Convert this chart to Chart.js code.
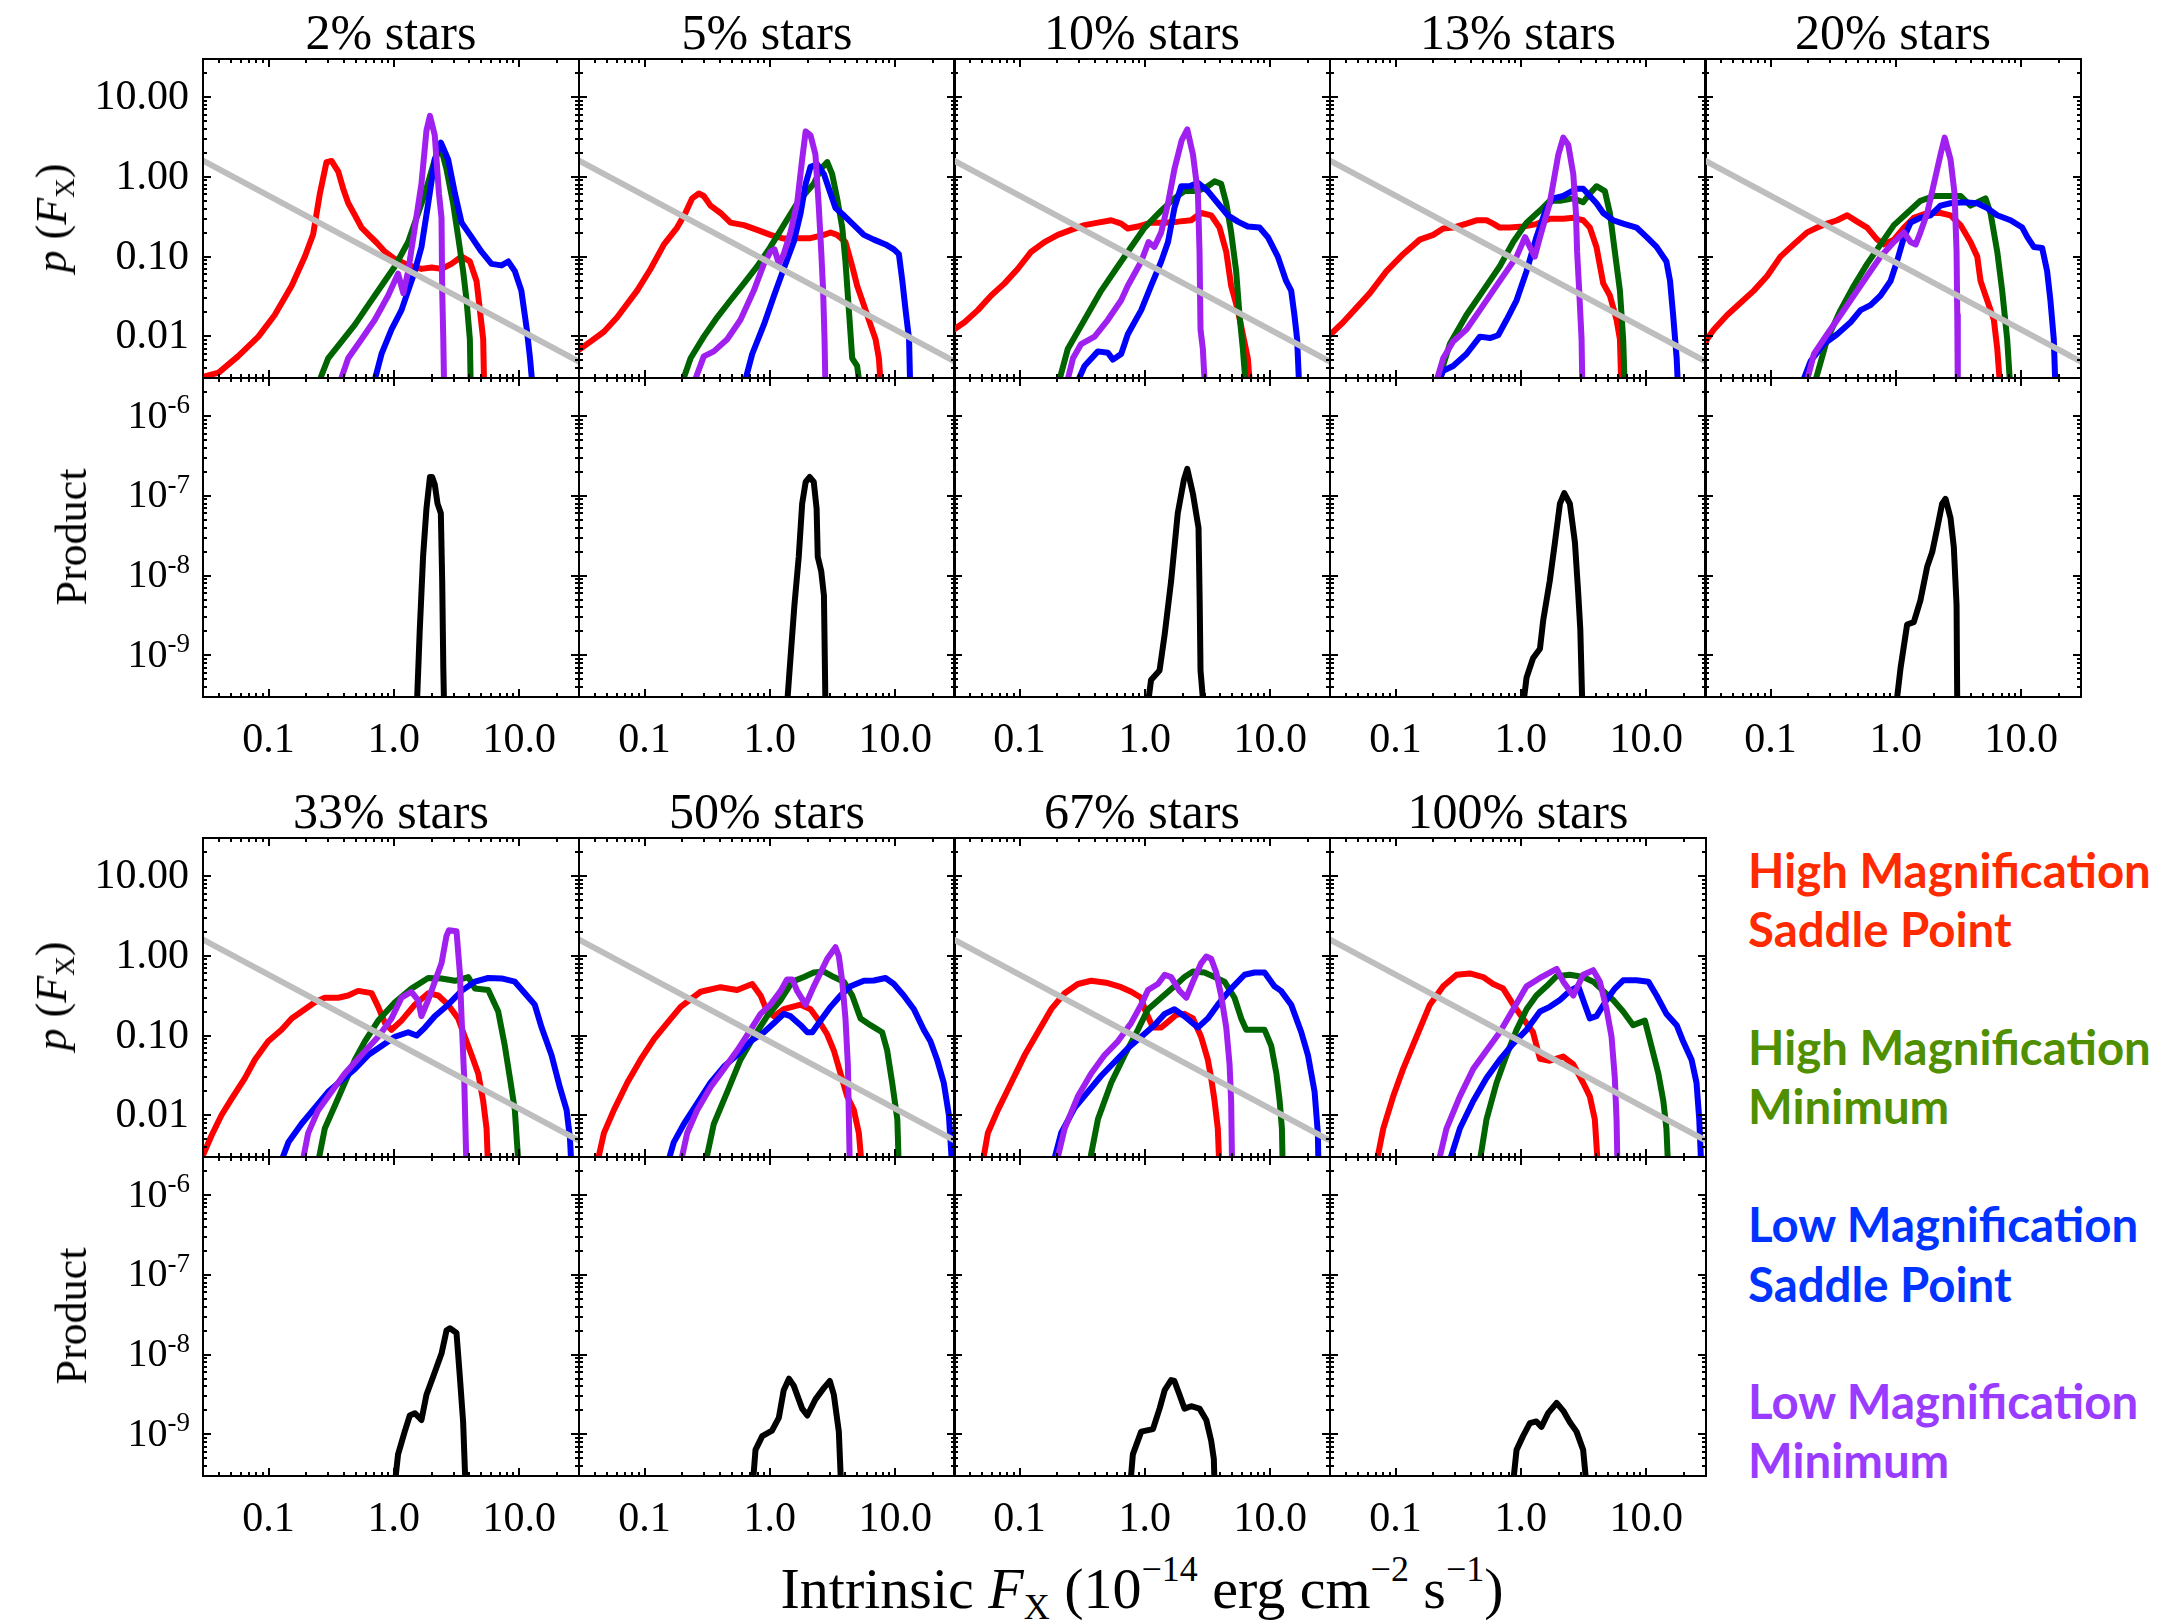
<!DOCTYPE html>
<html><head><meta charset="utf-8">
<script src="https://cdn.jsdelivr.net/npm/chart.js@4/dist/chart.umd.min.js"></script>
<style>
html,body{margin:0;padding:0;background:#fff;}
body{width:2160px;height:1621px;overflow:hidden;position:relative;}
canvas{position:absolute;}
.lbl{position:absolute;font-family:"Liberation Serif","Times New Roman",serif;color:#000;white-space:nowrap;line-height:1;}
.lbl sub,.lbl sup{font-size:0.62em;position:relative;vertical-align:baseline;line-height:0;}
.lbl sub{top:0.3em;}
.lbl sup{top:-0.75em;}
.leg{position:absolute;font-family:Lato,"Open Sans",sans-serif;font-weight:700;white-space:nowrap;line-height:1;}
</style></head><body>
<script>
// ---------------- DATA ----------------
const panelTitles = ['2% stars','5% stars','10% stars','13% stars','20% stars','33% stars','50% stars','67% stars','100% stars'];
const xTickValues = [0.1, 1, 10];
const xTickLabels = ['0.1','1.0','10.0'];
const pTickValues = [10, 1, 0.1, 0.01];
const pTickLabels = ['10.00','1.00','0.10','0.01'];
const prodTickValues = [1e-6, 1e-7, 1e-8, 1e-9];
const prodTickExps = ['-6','-7','-8','-9'];
const legendLines = [['High Magnification','Saddle Point'],['High Magnification','Minimum'],['Low Magnification','Saddle Point'],['Low Magnification','Minimum']];
const priorLine = [[0.03,1.6],[30,0.0048]];

// 2% stars
const hmSaddle02 = [[0.030,0.0031],[0.040,0.0035],[0.057,0.0056],[0.083,0.0099],[0.112,0.0185],[0.153,0.043],[0.195,0.10],[0.227,0.19],[0.257,0.62],[0.29,1.53],[0.318,1.58],[0.36,1.16],[0.394,0.71],[0.432,0.47],[0.489,0.33],[0.552,0.23],[0.624,0.19],[0.727,0.15],[0.848,0.115],[1.02,0.093],[1.30,0.078],[1.66,0.070],[2.0,0.073],[2.4,0.070],[2.88,0.081],[3.47,0.10],[4.04,0.087],[4.57,0.049],[4.86,0.021],[5.16,0.0092],[5.26,0.002]];
const hmMin02 = [[0.235,0.002],[0.299,0.0053],[0.382,0.0086],[0.489,0.014],[0.624,0.0246],[0.797,0.043],[1.02,0.0755],[1.30,0.152],[1.47,0.266],[1.77,0.617],[2.12,1.65],[2.37,2.34],[2.63,1.24],[2.97,0.466],[3.26,0.175],[3.57,0.0656],[3.80,0.0283],[4.04,0.0092],[4.11,0.002]];
const lmMin02 = [[0.349,0.002],[0.432,0.0053],[0.552,0.0092],[0.705,0.0161],[0.901,0.0325],[1.08,0.0611],[1.19,0.0348],[1.30,0.0656],[1.47,0.231],[1.66,0.817],[1.82,3.81],[1.94,5.81],[2.12,3.32],[2.29,0.617],[2.40,0.306],[2.43,0.0374],[2.48,0.0092],[2.52,0.002]];
const lmSaddle02 = [[0.664,0.002],[0.797,0.006],[0.958,0.0122],[1.15,0.0213],[1.30,0.0374],[1.47,0.0656],[1.66,0.132],[1.88,0.466],[2.12,1.65],[2.37,2.69],[2.71,1.65],[3.07,0.617],[3.47,0.266],[4.17,0.175],[5.0,0.115],[6.01,0.0809],[7.23,0.0775],[8.17,0.0867],[9.23,0.0656],[10.4,0.0374],[11.5,0.0122],[12.2,0.0053],[12.9,0.002]];
const product02 = [[1.52,2e-10],[1.61,2.11e-9],[1.71,1.72e-8],[1.82,6.93e-8],[1.94,1.72e-7],[2.02,1.72e-7],[2.12,1.39e-7],[2.23,7.98e-8],[2.37,6.03e-8],[2.43,8.55e-9],[2.48,6.93e-10],[2.52,2e-10]];

// 5% stars
const hmSaddle05 = [[0.030,0.00675],[0.037,0.00857],[0.0474,0.0114],[0.0605,0.0173],[0.0873,0.0374],[0.112,0.0703],[0.143,0.142],[0.182,0.231],[0.212,0.352],[0.240,0.537],[0.271,0.617],[0.297,0.575],[0.336,0.435],[0.404,0.352],[0.485,0.266],[0.621,0.248],[0.792,0.216],[1.01,0.187],[1.29,0.168],[1.65,0.170],[2.11,0.170],[2.70,0.187],[3.05,0.20],[3.44,0.187],[4.01,0.152],[4.54,0.0754],[4.97,0.043],[5.62,0.0246],[6.35,0.014],[6.97,0.0092],[7.41,0.0053],[7.73,0.002]];
const hmMin05 = [[0.188,0.002],[0.233,0.0053],[0.297,0.0099],[0.380,0.0173],[0.485,0.0283],[0.621,0.0461],[0.792,0.0754],[1.01,0.132],[1.29,0.248],[1.65,0.466],[1.99,0.662],[2.24,0.817],[2.54,1.24],[2.87,1.53],[3.14,1.08],[3.44,0.537],[3.78,0.231],[4.01,0.0867],[4.27,0.0213],[4.54,0.0053],[4.97,0.00425],[5.29,0.002]];
const lmMin05 = [[0.233,0.002],[0.297,0.0056],[0.357,0.00647],[0.457,0.0092],[0.583,0.0161],[0.745,0.0374],[0.896,0.0809],[1.01,0.115],[1.09,0.123],[1.18,0.0809],[1.29,0.107],[1.46,0.201],[1.65,0.466],[1.81,1.65],[1.93,3.71],[2.11,3.32],[2.31,1.90],[2.46,0.405],[2.57,0.115],[2.66,0.0374],[2.73,0.0092],[2.78,0.002]];
const lmSaddle05 = [[0.601,0.002],[0.723,0.006],[0.896,0.014],[1.08,0.0325],[1.29,0.0703],[1.55,0.152],[1.76,0.352],[1.93,0.817],[2.11,1.33],[2.39,1.43],[2.70,1.08],[2.96,0.71],[3.34,0.405],[3.89,0.329],[4.68,0.248],[5.62,0.187],[6.76,0.163],[8.37,0.142],[9.76,0.123],[10.7,0.107],[11.4,0.0494],[12.1,0.0213],[12.9,0.0092],[13.2,0.002]];
const product05 = [[1.36,2e-10],[1.46,9.2e-10],[1.57,4.26e-9],[1.70,1.72e-8],[1.81,7.98e-8],[1.93,1.49e-7],[2.08,1.72e-7],[2.24,1.49e-7],[2.36,6.93e-8],[2.41,1.72e-8],[2.57,1.13e-8],[2.70,5.62e-9],[2.78,2e-10]];

// 10% stars
const hmSaddle10 = [[0.0294,0.0119],[0.0364,0.015],[0.0465,0.0213],[0.0594,0.0325],[0.0759,0.0461],[0.097,0.0703],[0.124,0.115],[0.158,0.152],[0.202,0.187],[0.258,0.216],[0.330,0.248],[0.422,0.266],[0.539,0.285],[0.647,0.259],[0.731,0.225],[0.879,0.238],[1.12,0.266],[1.44,0.266],[1.83,0.274],[2.34,0.285],[2.81,0.352],[3.38,0.329],[3.94,0.231],[4.46,0.115],[4.88,0.043],[5.52,0.0213],[6.05,0.0106],[6.63,0.0053],[6.97,0.002]];
const hmMin10 = [[0.196,0.002],[0.243,0.007],[0.330,0.0161],[0.449,0.0374],[0.609,0.0755],[0.778,0.132],[0.997,0.231],[1.35,0.377],[1.72,0.537],[2.07,0.662],[2.65,0.662],[3.18,0.762],[3.60,0.877],[4.06,0.817],[4.46,0.466],[4.88,0.201],[5.35,0.0656],[5.69,0.0185],[6.05,0.007],[6.44,0.002]];
const lmMin10 = [[0.229,0.002],[0.267,0.0053],[0.310,0.008],[0.397,0.0099],[0.507,0.0161],[0.647,0.0283],[0.731,0.043],[0.935,0.0867],[1.07,0.152],[1.19,0.132],[1.35,0.201],[1.53,0.466],[1.72,1.24],[1.97,2.89],[2.18,3.93],[2.42,1.90],[2.65,0.617],[2.73,0.115],[2.78,0.0122],[2.90,0.007],[3.03,0.002]];
const lmSaddle10 = [[0.267,0.002],[0.330,0.00425],[0.422,0.00647],[0.507,0.00622],[0.556,0.0051],[0.647,0.006],[0.731,0.0106],[0.935,0.0213],[1.12,0.043],[1.35,0.0867],[1.53,0.152],[1.72,0.405],[1.95,0.762],[2.27,0.762],[2.65,0.841],[3.18,0.662],[3.82,0.466],[4.59,0.329],[5.52,0.274],[6.63,0.238],[8.22,0.231],[9.58,0.175],[11.5,0.0998],[13.4,0.0494],[14.7,0.0374],[15.6,0.0185],[16.4,0.0092],[17.1,0.002]];
const product10 = [[1.04,2e-10],[1.12,4.89e-10],[1.31,6.46e-10],[1.44,1.84e-9],[1.62,8.55e-9],[1.83,6.03e-8],[2.05,1.60e-7],[2.18,2.18e-7],[2.42,1.05e-7],[2.68,3.96e-8],[2.74,4.26e-9],[2.78,6.46e-10],[2.96,2e-10]];

// 13% stars
const hmSaddle13 = [[0.029,0.0099],[0.0382,0.015],[0.0489,0.0229],[0.0624,0.0348],[0.0848,0.0656],[0.115,0.107],[0.156,0.163],[0.20,0.187],[0.240,0.225],[0.288,0.231],[0.368,0.259],[0.443,0.285],[0.532,0.285],[0.601,0.259],[0.679,0.231],[0.817,0.231],[1.04,0.238],[1.33,0.255],[1.70,0.298],[2.18,0.298],[2.62,0.306],[3.14,0.285],[3.55,0.231],[4.01,0.132],[4.54,0.0461],[5.13,0.0325],[5.80,0.0161],[6.17,0.0092],[6.35,0.002]];
const hmMin13 = [[0.206,0.002],[0.271,0.008],[0.368,0.0185],[0.500,0.0374],[0.679,0.0755],[0.869,0.152],[1.11,0.266],[1.42,0.377],[1.70,0.50],[2.05,0.50],[2.62,0.537],[3.14,0.48],[3.55,0.617],[4.01,0.762],[4.68,0.662],[5.13,0.352],[5.62,0.115],[6.17,0.0374],[6.55,0.0092],[6.76,0.002]];
const lmMin13 = [[0.20,0.002],[0.240,0.0053],[0.288,0.0086],[0.368,0.0122],[0.471,0.0213],[0.601,0.0374],[0.769,0.0656],[0.924,0.0998],[1.08,0.175],[1.18,0.132],[1.29,0.0998],[1.42,0.175],[1.70,0.466],[1.99,1.90],[2.18,3.10],[2.39,2.51],[2.62,1.08],[2.75,0.352],[2.81,0.115],[2.92,0.0374],[3.05,0.0092],[3.10,0.002]];
const lmSaddle13 = [[0.206,0.002],[0.240,0.0037],[0.288,0.00425],[0.368,0.006],[0.471,0.0099],[0.566,0.0095],[0.659,0.0103],[0.769,0.0161],[0.924,0.0283],[1.11,0.0656],[1.33,0.175],[1.60,0.405],[1.81,0.537],[2.18,0.575],[2.78,0.71],[3.14,0.71],[3.55,0.575],[4.01,0.466],[4.54,0.352],[5.45,0.285],[6.55,0.259],[8.37,0.231],[10.1,0.175],[12.1,0.132],[14.5,0.0867],[15.5,0.0494],[16.4,0.0185],[17.5,0.0053],[18.0,0.002]];
const product13 = [[1.03,2e-10],[1.11,5.25e-10],[1.25,9.2e-10],[1.42,1.21e-9],[1.51,2.8e-9],[1.70,8.55e-9],[1.87,2.61e-8],[2.05,7.98e-8],[2.22,1.08e-7],[2.46,7.98e-8],[2.70,2.61e-8],[2.86,6.46e-9],[2.98,2.11e-9],[3.10,2e-10]];

// 20% stars
const hmSaddle20 = [[0.0294,0.008],[0.0353,0.0122],[0.0451,0.0185],[0.0577,0.0263],[0.0736,0.0374],[0.094,0.057],[0.120,0.0998],[0.153,0.142],[0.196,0.201],[0.236,0.231],[0.283,0.259],[0.340,0.285],[0.409,0.329],[0.491,0.274],[0.590,0.231],[0.710,0.163],[0.802,0.142],[0.964,0.163],[1.16,0.231],[1.39,0.306],[1.78,0.352],[2.27,0.352],[2.73,0.329],[3.28,0.248],[3.94,0.152],[4.46,0.0998],[4.74,0.0494],[5.35,0.0283],[6.05,0.0161],[6.44,0.007],[6.84,0.002]];
const hmMin20 = [[0.215,0.002],[0.283,0.0092],[0.362,0.0213],[0.462,0.043],[0.590,0.0809],[0.755,0.142],[0.964,0.248],[1.23,0.352],[1.57,0.50],[2.01,0.575],[2.57,0.575],[3.28,0.575],[3.94,0.435],[4.74,0.50],[5.19,0.537],[5.69,0.352],[6.44,0.115],[7.05,0.0374],[7.73,0.0092],[8.22,0.002]];
const lmMin20 = [[0.185,0.002],[0.222,0.006],[0.283,0.0106],[0.362,0.0185],[0.462,0.0325],[0.590,0.057],[0.755,0.0998],[0.964,0.152],[1.16,0.201],[1.31,0.152],[1.44,0.142],[1.57,0.201],[1.78,0.352],[2.01,0.817],[2.27,1.90],[2.45,3.10],[2.73,1.65],[2.94,0.617],[3.05,0.115],[3.09,0.0185],[3.12,0.002]];
const lmSaddle20 = [[0.168,0.002],[0.209,0.0049],[0.266,0.008],[0.340,0.0106],[0.435,0.015],[0.523,0.0213],[0.628,0.0246],[0.755,0.0325],[0.907,0.0494],[1.02,0.0867],[1.16,0.175],[1.31,0.266],[1.57,0.306],[1.89,0.329],[2.27,0.435],[2.73,0.466],[3.49,0.48],[4.46,0.466],[5.35,0.405],[6.44,0.329],[8.22,0.285],[10.2,0.231],[11.2,0.175],[12.6,0.132],[14.7,0.128],[16.1,0.0656],[17.1,0.0283],[18.2,0.0092],[18.8,0.002]];
const product20 = [[0.994,2e-10],[1.09,6.93e-10],[1.23,2.43e-9],[1.39,2.61e-9],[1.57,4.89e-9],[1.78,1.30e-8],[1.95,1.97e-8],[2.14,3.96e-8],[2.34,7.98e-8],[2.49,9.16e-8],[2.73,5.25e-8],[2.90,2.27e-8],[3.05,4.26e-9],[3.09,2e-10]];

// 33% stars
const hmSaddle33 = [[0.028,0.0025],[0.0301,0.0032],[0.0351,0.00559],[0.0422,0.0101],[0.0507,0.0161],[0.0648,0.0293],[0.0778,0.0498],[0.0994,0.0846],[0.127,0.118],[0.153,0.164],[0.195,0.214],[0.234,0.261],[0.281,0.298],[0.360,0.298],[0.432,0.318],[0.519,0.363],[0.664,0.340],[0.750,0.229],[0.848,0.144],[0.958,0.118],[1.15,0.154],[1.47,0.244],[1.88,0.340],[2.26,0.318],[2.71,0.244],[3.26,0.164],[3.68,0.0966],[4.17,0.0569],[4.71,0.0335],[5.16,0.0151],[5.49,0.00682],[5.66,0.002]];
const hmMin33 = [[0.241,0.002],[0.281,0.00682],[0.338,0.0132],[0.406,0.0256],[0.489,0.0498],[0.587,0.0846],[0.750,0.154],[1.02,0.261],[1.38,0.388],[1.88,0.527],[2.40,0.52],[3.07,0.486],[3.92,0.541],[4.43,0.388],[5.66,0.373],[6.80,0.20],[7.68,0.0741],[8.43,0.0293],[9.23,0.0116],[9.94,0.002]];
const lmMin33 = [[0.181,0.002],[0.207,0.00597],[0.249,0.0116],[0.318,0.0197],[0.406,0.0335],[0.552,0.0569],[0.750,0.0966],[0.958,0.164],[1.15,0.298],[1.38,0.354],[1.56,0.279],[1.66,0.175],[1.88,0.279],[2.12,0.474],[2.40,0.805],[2.63,1.78],[2.75,2.09],[3.16,2.03],[3.36,0.617],[3.47,0.164],[3.64,0.0293],[3.80,0.002]];
const lmSaddle33 = [[0.118,0.002],[0.144,0.00458],[0.183,0.00778],[0.234,0.0124],[0.299,0.0197],[0.382,0.0274],[0.489,0.0382],[0.624,0.0569],[0.797,0.0741],[1.02,0.0966],[1.30,0.110],[1.52,0.10],[1.77,0.126],[2.12,0.175],[2.71,0.244],[3.47,0.363],[4.43,0.474],[5.66,0.527],[7.23,0.52],[9.23,0.474],[11.1,0.340],[13.3,0.244],[15.1,0.126],[18.1,0.0569],[21.1,0.0225],[23.9,0.0116],[25.4,0.00522],[26.2,0.002]];
const product33 = [[0.958,1e-10],[1.08,5.6e-10],[1.22,1.08e-9],[1.34,1.72e-9],[1.47,1.84e-9],[1.66,1.51e-9],[1.82,3.13e-9],[2.06,5.32e-9],[2.40,1.03e-8],[2.63,2.0e-8],[2.80,2.14e-8],[3.16,1.87e-8],[3.36,5.32e-9],[3.57,1.42e-9],[3.80,1e-10]];

// 50% stars
const hmSaddle50 = [[0.0406,0.002],[0.0474,0.00597],[0.0569,0.0116],[0.0728,0.0256],[0.0929,0.0498],[0.119,0.0904],[0.152,0.144],[0.194,0.229],[0.280,0.354],[0.404,0.404],[0.548,0.373],[0.723,0.443],[0.843,0.318],[0.952,0.20],[1.08,0.175],[1.29,0.214],[1.76,0.244],[2.11,0.214],[2.39,0.164],[2.87,0.103],[3.24,0.0649],[3.66,0.0335],[4.14,0.0173],[4.68,0.0116],[5.13,0.00597],[5.45,0.002]];
const hmMin50 = [[0.297,0.002],[0.357,0.00778],[0.457,0.0197],[0.583,0.0498],[0.745,0.0966],[0.952,0.175],[1.22,0.279],[1.51,0.474],[1.87,0.541],[2.24,0.617],[2.70,0.634],[3.24,0.541],[3.89,0.474],[4.54,0.318],[5.29,0.164],[6.35,0.135],[7.87,0.110],[8.63,0.0649],[9.46,0.0256],[10.4,0.0089],[10.7,0.002]];
const lmMin50 = [[0.188,0.002],[0.219,0.006],[0.263,0.0116],[0.336,0.0225],[0.430,0.0382],[0.548,0.0649],[0.701,0.118],[0.843,0.187],[1.01,0.244],[1.22,0.363],[1.37,0.506],[1.51,0.506],[1.65,0.363],[1.93,0.244],[2.24,0.414],[2.54,0.617],[2.87,0.919],[3.34,1.28],[3.55,0.992],[3.78,0.474],[4.01,0.164],[4.19,0.0436],[4.35,0.002]];
const lmSaddle50 = [[0.147,0.002],[0.171,0.00458],[0.206,0.00778],[0.263,0.0141],[0.336,0.0256],[0.430,0.0408],[0.548,0.0569],[0.701,0.0846],[0.896,0.110],[1.08,0.144],[1.29,0.187],[1.46,0.175],[1.76,0.135],[1.99,0.110],[2.18,0.110],[2.54,0.154],[3.05,0.229],[3.66,0.318],[4.40,0.414],[5.62,0.486],[6.76,0.49],[8.37,0.527],[9.76,0.443],[11.7,0.318],[14.1,0.214],[16.9,0.118],[19.1,0.0846],[21.6,0.0498],[24.4,0.0256],[26.8,0.0101],[28.6,0.002]];
const product50 = [[0.701,1e-10],[0.768,6.38e-10],[0.869,9.49e-10],[1.04,1.11e-9],[1.18,1.62e-9],[1.29,3.58e-9],[1.42,4.98e-9],[1.55,4.08e-9],[1.81,2.10e-9],[1.99,1.72e-9],[2.31,2.74e-9],[2.70,3.82e-9],[3.01,4.66e-9],[3.24,3.13e-9],[3.55,1.08e-9],[3.78,1e-10]];

// 67% stars
const hmSaddle67 = [[0.0494,0.002],[0.0559,0.006],[0.0671,0.0116],[0.0858,0.0256],[0.110,0.0569],[0.140,0.110],[0.179,0.214],[0.229,0.340],[0.292,0.443],[0.373,0.486],[0.507,0.455],[0.647,0.404],[0.778,0.354],[0.935,0.298],[0.997,0.214],[1.16,0.126],[1.35,0.126],[1.57,0.154],[1.78,0.182],[2.07,0.187],[2.42,0.164],[2.81,0.0966],[3.18,0.0498],[3.38,0.0293],[3.60,0.0151],[3.82,0.00682],[3.94,0.002]];
const hmMin67 = [[0.351,0.002],[0.422,0.0089],[0.539,0.0256],[0.689,0.0569],[0.879,0.118],[1.06,0.214],[1.35,0.298],[1.72,0.414],[2.07,0.541],[2.42,0.634],[2.99,0.617],[3.60,0.541],[4.32,0.474],[5.19,0.298],[5.87,0.164],[6.44,0.118],[7.50,0.118],[9.02,0.118],[10.2,0.0741],[11.2,0.0335],[11.9,0.0151],[12.4,0.00682],[12.6,0.002]];
const lmMin67 = [[0.190,0.002],[0.229,0.00682],[0.292,0.0173],[0.373,0.0335],[0.477,0.0569],[0.609,0.0846],[0.778,0.144],[0.935,0.244],[1.06,0.373],[1.27,0.443],[1.44,0.578],[1.62,0.541],[1.89,0.363],[2.14,0.298],[2.42,0.474],[2.81,0.805],[3.09,0.98],[3.38,0.919],[3.71,0.617],[4.06,0.318],[4.46,0.126],[4.74,0.0436],[4.88,0.0151],[4.97,0.002]];
const lmSaddle67 = [[0.179,0.002],[0.215,0.006],[0.275,0.0124],[0.351,0.0197],[0.449,0.0313],[0.573,0.0466],[0.731,0.0693],[0.935,0.0966],[1.19,0.135],[1.44,0.187],[1.72,0.214],[2.07,0.175],[2.65,0.126],[3.18,0.164],[3.82,0.244],[4.88,0.388],[6.24,0.578],[7.50,0.617],[9.02,0.617],[10.8,0.414],[12.2,0.363],[14.7,0.244],[17.7,0.110],[20.0,0.0569],[22.6,0.0197],[24.0,0.006],[24.3,0.002]];
const product67 = [[0.731,1e-10],[0.802,5.6e-10],[0.935,1.08e-9],[1.16,1.16e-9],[1.31,2.10e-9],[1.44,3.58e-9],[1.62,4.79e-9],[1.72,4.66e-9],[1.89,3.13e-9],[2.07,2.10e-9],[2.34,2.25e-9],[2.73,2.10e-9],[3.09,1.51e-9],[3.38,8.34e-10],[3.55,4.9e-10],[3.65,1e-10]];

// 100% stars
const hmSaddle100 = [[0.0684,0.002],[0.0798,0.00682],[0.0958,0.0173],[0.115,0.0382],[0.147,0.0966],[0.188,0.244],[0.240,0.414],[0.307,0.578],[0.392,0.601],[0.500,0.541],[0.601,0.443],[0.723,0.388],[0.869,0.244],[1.04,0.164],[1.25,0.110],[1.42,0.0511],[1.70,0.0484],[2.18,0.0546],[2.62,0.0436],[3.14,0.0256],[3.55,0.0173],[3.89,0.0089],[4.14,0.002]];
const hmMin100 = [[0.457,0.002],[0.532,0.0089],[0.640,0.0256],[0.769,0.0569],[0.924,0.118],[1.11,0.214],[1.33,0.318],[1.60,0.414],[1.93,0.555],[2.46,0.578],[3.14,0.541],[3.78,0.474],[4.54,0.363],[5.45,0.279],[6.55,0.20],[7.87,0.135],[9.76,0.154],[11.0,0.0741],[12.5,0.0335],[13.7,0.0151],[14.5,0.00682],[15.0,0.002]];
const lmMin100 = [[0.212,0.002],[0.255,0.00682],[0.326,0.0173],[0.417,0.0382],[0.532,0.0649],[0.679,0.110],[0.869,0.214],[1.11,0.414],[1.42,0.527],[1.70,0.617],[1.93,0.687],[2.18,0.474],[2.62,0.318],[3.14,0.578],[3.78,0.66],[4.27,0.474],[4.83,0.214],[5.29,0.0966],[5.62,0.0293],[5.80,0.0089],[5.91,0.002]];
const lmSaddle100 = [[0.255,0.002],[0.326,0.00682],[0.417,0.0151],[0.532,0.0293],[0.679,0.0498],[0.869,0.0791],[1.11,0.118],[1.42,0.20],[1.70,0.229],[2.05,0.279],[2.46,0.363],[2.87,0.414],[3.24,0.244],[3.55,0.164],[4.01,0.175],[4.83,0.279],[5.62,0.388],[6.55,0.493],[8.37,0.493],[10.4,0.474],[12.1,0.318],[14.5,0.187],[17.5,0.135],[19.7,0.0846],[23.0,0.0498],[25.2,0.0256],[26.5,0.0089],[27.6,0.002]];
const product100 = [[0.817,1e-10],[0.924,6.38e-10],[1.04,9.49e-10],[1.18,1.38e-9],[1.33,1.45e-9],[1.46,1.24e-9],[1.65,1.84e-9],[1.93,2.47e-9],[2.18,1.97e-9],[2.46,1.42e-9],[2.78,1.08e-9],[3.14,6.38e-10],[3.51,1e-10]];

// ---------------- STYLE / LAYOUT ----------------
const COLORS = {hmSaddle:'#ff0000', hmMin:'#006400', lmSaddle:'#0000ff', lmMin:'#a020f0', prior:'#bebebe', product:'#000000'};
const LEGEND_COLORS = ['#ff2a00','#4f8f00','#0033ff','#9a3cff'];
const PAD = {left:200, right:20, top:60, bottom:70};
const PLOT_W = 376, PLOT_H = 319;
const COL_X = [203, 579, 954, 1330, 1705];
const ROW_Y = [59, 838];
const SERIF = '"Liberation Serif","Times New Roman",serif';

const panels = [
  {hmS:hmSaddle02, hmM:hmMin02, lmS:lmSaddle02, lmM:lmMin02, prod:product02},
  {hmS:hmSaddle05, hmM:hmMin05, lmS:lmSaddle05, lmM:lmMin05, prod:product05},
  {hmS:hmSaddle10, hmM:hmMin10, lmS:lmSaddle10, lmM:lmMin10, prod:product10},
  {hmS:hmSaddle13, hmM:hmMin13, lmS:lmSaddle13, lmM:lmMin13, prod:product13},
  {hmS:hmSaddle20, hmM:hmMin20, lmS:lmSaddle20, lmM:lmMin20, prod:product20},
  {hmS:hmSaddle33, hmM:hmMin33, lmS:lmSaddle33, lmM:lmMin33, prod:product33},
  {hmS:hmSaddle50, hmM:hmMin50, lmS:lmSaddle50, lmM:lmMin50, prod:product50},
  {hmS:hmSaddle67, hmM:hmMin67, lmS:lmSaddle67, lmM:lmMin67, prod:product67},
  {hmS:hmSaddle100, hmM:hmMin100, lmS:lmSaddle100, lmM:lmMin100, prod:product100}
];

function line(ctx, x1, y1, x2, y2){ ctx.beginPath(); ctx.moveTo(x1,y1); ctx.lineTo(x2,y2); ctx.stroke(); }

const decoPlugin = {
  id: 'deco',
  afterDraw(chart, args, o) {
    const ctx = chart.ctx, a = chart.chartArea, xs = chart.scales.x, ys = chart.scales.y;
    ctx.save();
    ctx.strokeStyle = '#000'; ctx.fillStyle = '#000';
    ctx.lineWidth = 2;
    ctx.strokeRect(a.left, a.top, a.right - a.left, a.bottom - a.top);
    // x ticks
    for (let e = -2; e <= 1; e++) for (let k = 1; k <= 9; k++) {
      const v = k * Math.pow(10, e);
      if (v <= xs.min * 1.001 || v >= xs.max * 0.999) continue;
      const px = Math.round(xs.getPixelForValue(v));
      const len = k === 1 ? 8 : 4;
      line(ctx, px, a.bottom, px, a.bottom - len);
      line(ctx, px, a.top, px, a.top + len);
    }
    // y ticks
    const e0 = Math.floor(Math.log10(ys.min)) , e1 = Math.ceil(Math.log10(ys.max));
    for (let e = e0; e <= e1; e++) for (let k = 1; k <= 9; k++) {
      const v = k * Math.pow(10, e);
      if (v <= ys.min * 1.001 || v >= ys.max * 0.999) continue;
      const py = Math.round(ys.getPixelForValue(v));
      const len = k === 1 ? 8 : 4;
      line(ctx, a.left, py, a.left + len, py);
      line(ctx, a.right, py, a.right - len, py);
    }
    // labels
    if (o.xLabels) {
      ctx.font = '42px ' + SERIF; ctx.textAlign = 'center'; ctx.textBaseline = 'middle';
      xTickValues.forEach((v, i) => ctx.fillText(xTickLabels[i], xs.getPixelForValue(v), a.bottom + 44));
    }
    if (o.yLabels === 'p') {
      ctx.font = '42px ' + SERIF; ctx.textAlign = 'right'; ctx.textBaseline = 'middle';
      pTickValues.forEach((v, i) => ctx.fillText(pTickLabels[i], a.left - 14, ys.getPixelForValue(v) + 1));
    }
    if (o.yLabels === 'prod') {
      prodTickValues.forEach((v, i) => {
        const py = ys.getPixelForValue(v);
        ctx.font = '27px ' + SERIF; ctx.textAlign = 'right'; ctx.textBaseline = 'alphabetic';
        const sw = ctx.measureText(prodTickExps[i]).width;
        ctx.fillText(prodTickExps[i], a.left - 13, py - 3);
        ctx.font = '40px ' + SERIF; ctx.textBaseline = 'middle';
        ctx.fillText('10', a.left - 13 - sw, py + 1);
      });
    }
    if (o.title) {
      ctx.font = '50px ' + SERIF; ctx.textAlign = 'center'; ctx.textBaseline = 'alphabetic';
      ctx.fillText(o.title, (a.left + a.right) / 2, a.top - 10);
    }
    ctx.restore();
  }
};

function ds(data, color) {
  return {data, borderColor: color, borderWidth: 6, pointRadius: 0, fill: false, tension: 0, clip: 0,
          borderJoinStyle: 'round', borderCapStyle: 'round'};
}

function makeChart(left, top, datasets, yMin, yMax, deco) {
  const c = document.createElement('canvas');
  c.width = PLOT_W + PAD.left + PAD.right;
  c.height = PLOT_H + PAD.top + PAD.bottom;
  c.style.left = (left - PAD.left) + 'px';
  c.style.top = (top - PAD.top) + 'px';
  c.style.width = c.width + 'px'; c.style.height = c.height + 'px';
  document.body.appendChild(c);
  return new Chart(c, {
    type: 'line',
    data: {datasets},
    options: {
      responsive: false, animation: false, devicePixelRatio: 1, events: [],
      layout: {padding: {left: PAD.left, right: PAD.right, top: PAD.top, bottom: PAD.bottom}},
      scales: {
        x: {type: 'logarithmic', min: 0.03, max: 30, display: false},
        y: {type: 'logarithmic', min: yMin, max: yMax, display: false}
      },
      plugins: {legend: {display: false}, tooltip: {enabled: false}, title: {display: false}, deco}
    },
    plugins: [decoPlugin]
  });
}

panels.forEach((p, i) => {
  const row = i < 5 ? 0 : 1, col = i < 5 ? i : i - 5;
  const x0 = COL_X[col], y0 = ROW_Y[row];
  makeChart(x0, y0, [
    ds(priorLine, COLORS.prior),
    ds(p.lmM, COLORS.lmMin),
    ds(p.lmS, COLORS.lmSaddle),
    ds(p.hmM, COLORS.hmMin),
    ds(p.hmS, COLORS.hmSaddle)
  ], 0.003, 30, {title: panelTitles[i], yLabels: col === 0 ? 'p' : null, xLabels: false});
  makeChart(x0, y0 + PLOT_H, [ds(p.prod, COLORS.product)], 3e-10, 3e-6,
    {title: null, yLabels: col === 0 ? 'prod' : null, xLabels: true});
});

// ---------------- HTML TEXT ----------------
function addDiv(cls, html, style) {
  const d = document.createElement('div');
  d.className = cls; d.innerHTML = html;
  Object.assign(d.style, style);
  document.body.appendChild(d);
  return d;
}
// y axis titles (rotated)
const rot = {transform: 'translate(-50%,-50%) rotate(-90deg)', fontSize: '44px'};
[[52, 218], [52, 996]].forEach(([cx, cy]) =>
  addDiv('lbl', '<i>p</i> (<i>F</i><sub>X</sub>)', Object.assign({left: cx + 'px', top: cy + 'px'}, rot)));
[[72, 537], [72, 1316]].forEach(([cx, cy]) =>
  addDiv('lbl', 'Product', Object.assign({left: cx + 'px', top: cy + 'px'}, rot)));
// x axis title
const xt = addDiv('lbl', 'Intrinsic <i>F</i><sub>X</sub> (10<sup>&minus;14</sup> erg cm<sup>&minus;2</sup> s<sup>&minus;1</sup>)',
  {fontSize: '58px', left: '1142px', top: (1609 - 0.8375 * 58) + 'px', transform: 'translateX(-50%)'});

// legend
const mctx = document.createElement('canvas').getContext('2d');
mctx.font = '700 48px Lato';
const legSize = 48 * 403 / mctx.measureText('High Magnification').width;
const legBaselines = [888, 947, 1065, 1124, 1242, 1302, 1419, 1478];
legendLines.forEach((pair, i) => {
  pair.forEach((txt, j) => {
    addDiv('leg', txt, {left: '1748px', top: (legBaselines[i * 2 + j] - 0.887 * legSize) + 'px',
      fontSize: legSize + 'px', color: LEGEND_COLORS[i]});
  });
});
</script>
</body></html>
